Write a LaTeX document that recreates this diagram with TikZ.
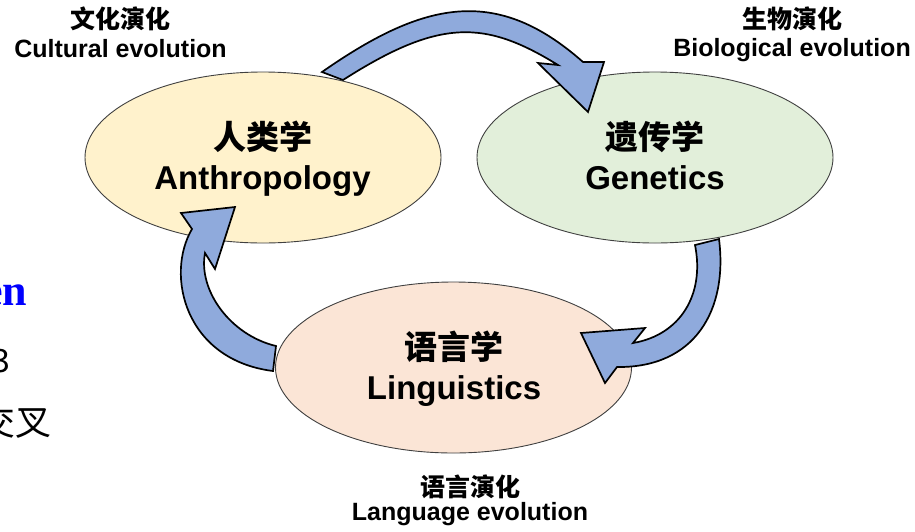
\documentclass[tikz,border=0pt]{standalone}
\usepackage{fontspec}
\setmainfont{Liberation Sans}
\newfontfamily\cjk{Noto Sans CJK SC}
\newfontfamily\serifx{Liberation Serif}
\usetikzlibrary{shapes.geometric}
\definecolor{ayellow}{RGB}{255,242,204}
\definecolor{agreen}{RGB}{226,239,218}
\definecolor{apeach}{RGB}{251,229,214}
\definecolor{ablue}{RGB}{143,170,220}
\definecolor{fragblue}{RGB}{0,0,255}
\tikzset{
  bubble/.style={ellipse, draw=black!75, line width=0.9pt, minimum width=356pt, minimum height=171pt, inner sep=0pt},
  cyc/.style={fill=ablue, draw=black, line width=1.7pt, line join=miter},
  zhbig/.style={font=\cjk\bfseries\fontsize{33}{40}\selectfont, inner sep=0pt, anchor=base},
  enbig/.style={font=\bfseries\fontsize{33}{40}\selectfont, inner sep=0pt, anchor=base},
  zhsmall/.style={font=\cjk\bfseries\fontsize{25}{30}\selectfont, inner sep=0pt, anchor=base},
  ensmall/.style={font=\bfseries\fontsize{25}{30}\selectfont, inner sep=0pt, anchor=base},
  frag/.style={inner sep=0pt, anchor=base east}
}
\begin{document}
\begin{tikzpicture}[x=1pt,y=-1pt]
\useasboundingbox (0,0) rectangle (915,531);
\clip (0,0) rectangle (915,531);
\fill[white] (0,0) rectangle (915,531);

% ellipses
\node[bubble, fill=ayellow] (A) at (263,157.5) {};
\node[bubble, fill=agreen] (G) at (655,157.5) {};
\node[bubble, fill=apeach] (L) at (453.5,367.5) {};

% cycle arrows
\draw[cyc] (322,72) .. controls (425,0) and (497,-14) .. (583,62) -- (604,62) -- (588,112) -- (538,63) -- (558,65) .. controls (485,20) and (440,18) .. (343,80) -- cycle;
\draw[cyc] (719,239) .. controls (728,310) and (695,368) .. (617,367) -- (605,383) -- (581,333) -- (645,328) -- (633,343) .. controls (680,335) and (705,295) .. (695,245) -- cycle;
\draw[cyc] (273,371) .. controls (185,360) and (165,275) .. (192,229) -- (181,213) -- (235,207) -- (215,269) -- (205,253) .. controls (198,290) and (230,335) .. (276,346) -- cycle;

% ellipse texts
\node[zhbig] (A-zh) at (262.5,149.7) {人类学};
\node[enbig] (A-en) at (262.5,189) {Anthropology};
\node[zhbig] (G-zh) at (655,149.7) {遗传学};
\node[enbig] (G-en) at (655,189) {Genetics};
\node[zhbig] (L-zh) at (454,359.5) {语言学};
\node[enbig] (L-en) at (454,399.3) {Linguistics};

% outer labels
\node[zhsmall] (cul-zh) at (120,28.3) {文化演化};
\node[ensmall] (cul-en) at (120.5,57) {Cultural evolution};
\node[zhsmall] (bio-zh) at (792,28.3) {生物演化};
\node[ensmall] (bio-en) at (792,56.7) {Biological evolution};
\node[zhsmall] (lang-zh) at (470,496.5) {语言演化};
\node[ensmall] (lang-en) at (470,520.5) {Language evolution};

% clipped fragments at left edge
\node[frag, font=\serifx\bfseries\fontsize{44}{50}\selectfont, text=fragblue] (frag1) at (27.5,305.5) {en};
\node[frag, font=\cjk\fontsize{32}{38}\selectfont] (frag2) at (10.6,372) {3};
\node[frag, font=\cjk\fontsize{36}{40}\selectfont] (frag3) at (52,435) {交叉};
\end{tikzpicture}
\end{document}
